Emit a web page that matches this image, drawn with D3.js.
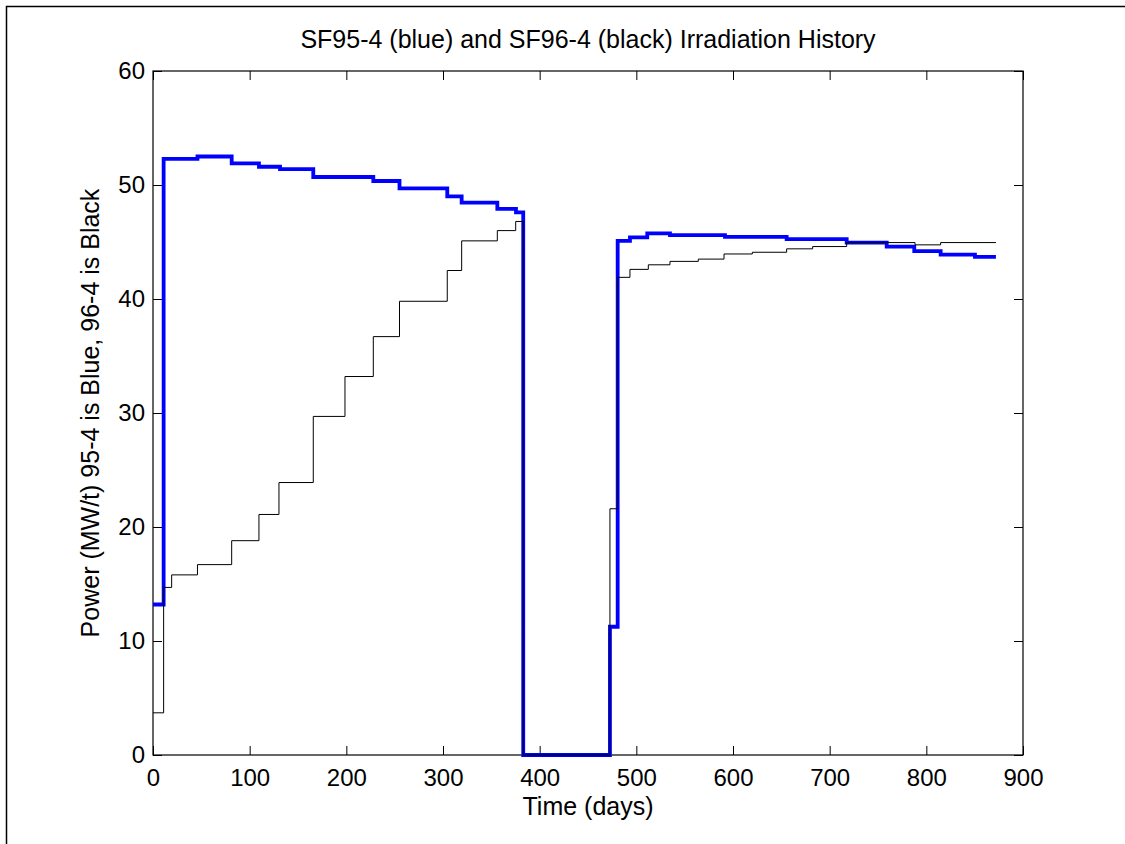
<!DOCTYPE html>
<html>
<head>
<meta charset="utf-8">
<script src="https://cdn.jsdelivr.net/npm/d3@7"></script>
<style>
  html, body { margin: 0; padding: 0; background: #fff; }
  svg text { font-family: "Liberation Sans", Arial, sans-serif; fill: #000; }
</style>
</head>
<body>
<div id="chart"></div>
<script>
// Irradiation history, step data (start day of each step, power MW/t)
const blueDays = [0, 11, 46, 81.4, 109.6, 131.4, 165.8, 227.9, 255, 304.4, 319.3, 356.2, 375.5, 383,
    472.7, 480.7, 493.4, 511.3, 534.8, 591.7, 655.5, 717.6, 759, 787.5, 814.8, 850.3, 872];
const bluePower = [13.2, 52.3, 52.5, 51.9, 51.6, 51.4, 50.7, 50.35, 49.7, 49.0, 48.45, 47.9, 47.6, 0,
    11.25, 45.1, 45.4, 45.75, 45.6, 45.45, 45.25, 44.95, 44.6, 44.2, 43.9, 43.7, 43.7];

const blackDays = [0, 11, 19.3, 46, 81.4, 109.6, 130.3, 165.8, 198.6, 227.9, 255, 304.4, 319.3, 356.2, 375.2, 383,
    472.7, 480.7, 493.4, 512.4, 534.8, 564.1, 590.7, 620, 655.5, 682.4, 717.6, 788.3, 814.8, 872];
const blackPower = [3.7, 14.7, 15.8, 16.7, 18.8, 21.1, 23.9, 29.7, 33.2, 36.7, 39.8, 42.5, 45.1, 46.0, 46.8, 0,
    21.6, 41.9, 42.6, 43.0, 43.3, 43.5, 43.95, 44.1, 44.4, 44.6, 44.95, 44.75, 44.95, 44.95];

const xTicks = [0, 100, 200, 300, 400, 500, 600, 700, 800, 900];
const yTicks = [0, 10, 20, 30, 40, 50, 60];

const W = 1125, H = 844;
const margin = { top: 71, right: 102, bottom: 89, left: 153 };
const width = W - margin.left - margin.right;
const height = H - margin.top - margin.bottom;

const svg = d3.select('#chart').append('svg')
    .attr('width', W)
    .attr('height', H);

// outer figure frame
svg.append('rect')
    .attr('x', 6.5).attr('y', 6.5)
    .attr('width', 1140).attr('height', 860)
    .attr('fill', 'none')
    .attr('stroke', '#000')
    .attr('stroke-width', 1.5);

const g = svg.append('g')
    .attr('transform', 'translate(' + margin.left + ',' + margin.top + ')');

const x = d3.scaleLinear().domain([0, 900]).range([0, width]);
const y = d3.scaleLinear().domain([0, 60]).range([height, 0]);

const tickLen = 9;
const fs = 24;   // tick labels
const ls = 25;   // title and axis labels

// axes with inward ticks, like MATLAB
g.append('g')
    .attr('transform', 'translate(0,' + height + ')')
    .call(d3.axisBottom(x).tickValues(xTicks).tickSizeInner(-tickLen).tickSizeOuter(0).tickPadding(14))
    .call(a => a.selectAll('text').attr('font-size', fs));
g.append('g')
    .call(d3.axisTop(x).tickValues(xTicks).tickSizeInner(-tickLen).tickSizeOuter(0).tickFormat(''));
g.append('g')
    .call(d3.axisLeft(y).tickValues(yTicks).tickSizeInner(-tickLen).tickSizeOuter(0).tickPadding(8))
    .call(a => a.selectAll('text').attr('font-size', fs));
g.append('g')
    .attr('transform', 'translate(' + width + ',0)')
    .call(d3.axisRight(y).tickValues(yTicks).tickSizeInner(-tickLen).tickSizeOuter(0).tickFormat(''));

g.selectAll('.domain').remove();
g.append('rect')
    .attr('width', width).attr('height', height)
    .attr('fill', 'none').attr('stroke', '#000').attr('stroke-width', 1.2);
g.selectAll('.tick line').attr('stroke', '#000');

const line = d3.line()
    .x(d => x(d[0]))
    .y(d => y(d[1]))
    .curve(d3.curveStepAfter);

g.append('path')
    .datum(d3.zip(blueDays, bluePower))
    .attr('d', line)
    .attr('fill', 'none')
    .attr('stroke', '#0000ff')
    .attr('stroke-width', 3.8);

g.append('path')
    .datum(d3.zip(blackDays, blackPower))
    .attr('d', line)
    .attr('fill', 'none')
    .attr('stroke', '#000')
    .attr('stroke-width', 1);

// title and axis labels
svg.append('text')
    .attr('x', margin.left + width / 2).attr('y', 48)
    .attr('text-anchor', 'middle')
    .attr('font-size', ls)
    .text('SF95-4 (blue) and SF96-4 (black) Irradiation History');

svg.append('text')
    .attr('x', margin.left + width / 2).attr('y', 815)
    .attr('text-anchor', 'middle')
    .attr('font-size', ls)
    .text('Time (days)');

svg.append('text')
    .attr('transform', 'translate(99,' + (margin.top + height / 2) + ') rotate(-90)')
    .attr('text-anchor', 'middle')
    .attr('font-size', ls)
    .text('Power (MW/t) 95-4 is Blue, 96-4 is Black');
</script>
</body>
</html>
